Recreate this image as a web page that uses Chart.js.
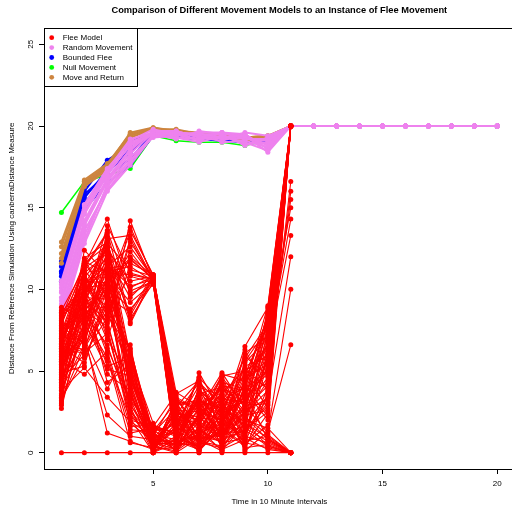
<!DOCTYPE html>
<html>
<head>
<meta charset="utf-8">
<script src="https://cdn.jsdelivr.net/npm/chart.js@4.4.1/dist/chart.umd.min.js"></script>
<style>
  html, body { margin: 0; padding: 0; background: #fff; }
  canvas { display: block; }
</style>
</head>
<body>
<canvas id="chart" width="512" height="507"></canvas>
<script>
// time steps (10 minute intervals)
const timeSteps = [1, 2, 3, 4, 5, 6, 7, 8, 9, 10, 11, 12, 13, 14, 15, 16, 17, 18, 19, 20];
const xTicks = [5, 10, 15, 20];
const yTicks = [0, 5, 10, 15, 20, 25];

// Flee Model runs (only recorded up to step 11)
const fleeModel = [
  [6.2, 9.8, 12.1, 8.4, 10.8, 0.4, 2.1, 1.3, 3.0, 5.2, 20],
  [5.1, 8.3, 10.6, 11.9, 10.6, 1.2, 0.3, 2.8, 1.9, 7.4, 20],
  [7.4, 11.2, 9.3, 13.6, 10.9, 2.6, 1.4, 0.6, 4.1, 2.2, 20],
  [4.3, 7.1, 13.6, 9.7, 10.5, 0.8, 3.3, 1.9, 0.9, 6.1, 20],
  [8.1, 10.4, 11.4, 12.6, 10.7, 3.1, 0.9, 4.2, 2.5, 8.3, 20],
  [5.8, 6.4, 8.7, 10.8, 10.4, 0.2, 2.4, 3.6, 5.1, 3.9, 20],
  [3.6, 9.1, 12.8, 11.2, 10.8, 1.7, 4.1, 0.8, 1.4, 0.4, 0],
  [6.9, 10.9, 7.6, 14.2, 10.6, 0.6, 1.1, 2.2, 6.5, 8.9, 20],
  [4.9, 5.3, 10.2, 8.8, 10.3, 2.2, 0.2, 1.5, 2.8, 4.6, 16.6],
  [7.8, 11.5, 14.3, 10.1, 10.8, 3.7, 2.8, 3.9, 3.4, 6.8, 20],
  [5.4, 8.8, 9.8, 12.3, 10.5, 1.0, 3.8, 2.6, 0.5, 1.7, 20],
  [3.1, 7.7, 11.7, 7.9, 10.7, 0.1, 1.6, 4.8, 4.4, 5.7, 15.5],
  [6.6, 10.1, 6.9, 11.6, 10.9, 2.9, 0.6, 0.3, 1.1, 3.1, 20],
  [8.4, 9.4, 13.1, 13.3, 10.6, 1.4, 4.6, 3.1, 5.8, 7.9, 20],
  [4.6, 12.4, 10.9, 9.2, 10.4, 0.3, 1.9, 1.0, 2.2, 0.8, 0],
  [7.1, 6.8, 12.4, 10.5, 10.8, 3.3, 2.5, 2.0, 3.7, 4.8, 20],
  [5.7, 10.6, 8.1, 12.9, 10.7, 0.9, 0.4, 3.4, 1.6, 6.4, 14.3],
  [2.9, 8.1, 11.1, 11.4, 10.5, 2.0, 3.0, 1.7, 4.9, 2.7, 20],
  [6.4, 11.8, 9.5, 8.6, 10.9, 1.5, 1.2, 0.2, 0.8, 5.5, 20],
  [7.6, 9.0, 13.9, 11.0, 10.6, 0.5, 4.9, 2.4, 3.2, 8.6, 20],
  [4.1, 7.4, 10.0, 13.8, 10.8, 2.4, 2.0, 4.6, 2.9, 1.2, 10.0],
  [5.3, 10.3, 12.6, 9.9, 10.5, 3.5, 0.8, 1.2, 6.1, 7.1, 20],
  [5.0, 9.3, 11.5, 10.2, 10.6, 1.1, 2.6, 2.9, 1.0, 6.0, 20],
  [7.2, 8.6, 9.0, 12.0, 10.8, 2.3, 1.7, 0.9, 3.9, 8.0, 20],
  [3.8, 11.4, 13.5, 8.2, 10.4, 0.7, 3.6, 4.0, 2.3, 2.6, 20],
  [6.0, 7.6, 10.4, 11.8, 10.7, 1.9, 0.2, 1.8, 5.5, 7.0, 20],
  [8.6, 10.2, 12.0, 9.5, 10.9, 3.0, 3.2, 2.7, 0.6, 4.0, 20],
  [4.5, 6.0, 8.3, 13.1, 10.5, 0.4, 1.5, 3.3, 3.1, 5.6, 20],
  [6.6, 11.7, 11.0, 10.9, 10.6, 2.8, 4.4, 1.4, 4.7, 8.2, 20],
  [5.6, 9.6, 12.9, 8.0, 10.8, 1.3, 0.7, 0.4, 1.7, 3.5, 20],
  [6.0, 9.6, 11.8, 4.2, 0.3, 1.8, 2.9, 1.1, 2.3, 4.4, 20],
  [4.4, 7.9, 5.6, 2.1, 0.0, 0.6, 1.3, 3.8, 4.7, 6.6, 20],
  [7.3, 10.8, 8.4, 6.3, 1.2, 2.7, 0.5, 2.1, 0.6, 0.3, 0],
  [3.3, 5.8, 9.1, 3.5, 0.6, 0.2, 3.5, 0.9, 3.6, 8.1, 20],
  [8.7, 11.3, 13.4, 3.3, 0.1, 3.2, 1.8, 4.4, 1.3, 2.9, 20],
  [5.6, 4.8, 6.2, 1.6, 1.7, 1.1, 0.1, 1.6, 5.3, 5.9, 20],
  [6.8, 9.9, 4.3, 5.4, 0.4, 0.1, 2.3, 0.4, 2.0, 1.5, 0],
  [2.7, 8.6, 10.7, 5.2, 0.9, 2.3, 4.3, 2.9, 0.2, 3.6, 20],
  [7.9, 7.2, 1.2, 0.7, 0.2, 1.6, 0.7, 3.2, 4.0, 9.0, 20],
  [4.8, 11.0, 12.2, 4.4, 1.4, 0.4, 1.5, 0.1, 1.8, 0.9, 0],
  [6.3, 6.1, 7.3, 2.8, 0.0, 2.9, 3.1, 2.7, 3.1, 6.3, 13.3],
  [5.0, 9.2, 9.9, 6.2, 0.7, 0.7, 0.2, 1.4, 0.4, 2.4, 20],
  [3.8, 5.2, 3.4, 1.9, 1.0, 3.4, 2.6, 4.9, 2.7, 4.1, 20],
  [7.0, 10.0, 11.3, 3.7, 0.2, 0.3, 1.0, 0.7, 5.6, 7.6, 20],
  [8.9, 8.0, 5.1, 4.7, 1.5, 1.3, 3.7, 2.3, 1.0, 0.6, 0],
  [4.2, 9.4, 8.0, 3.0, 0.5, 2.5, 0.3, 3.0, 3.3, 5.1, 20],
  [6.1, 11.9, 12.9, 5.9, 0.0, 0.9, 2.7, 0.5, 2.6, 3.3, 12.0],
  [5.5, 6.9, 2.3, 1.0, 0.8, 1.9, 1.2, 1.8, 4.3, 8.4, 20],
  [3.0, 10.5, 10.4, 5.7, 1.8, 0.0, 4.0, 3.5, 0.7, 1.0, 0],
  [7.7, 8.5, 6.6, 2.6, 0.3, 3.0, 0.9, 1.0, 1.7, 6.9, 20],
  [6.5, 5.5, 9.6, 2.5, 1.1, 0.8, 2.1, 4.1, 3.8, 2.0, 20],
  [4.7, 9.7, 13.2, 4.9, 0.4, 2.1, 0.0, 2.5, 0.3, 0.5, 0],
  [8.2, 11.1, 7.0, 4.5, 0.6, 0.5, 3.4, 0.3, 4.6, 5.4, 20],
  [5.2, 7.5, 11.6, 6.0, 1.3, 1.7, 1.7, 3.7, 2.1, 7.3, 15.0],
  [3.5, 8.9, 4.8, 3.8, 0.1, 2.8, 0.6, 1.3, 1.2, 3.4, 20],
  [7.2, 10.2, 8.9, 6.4, 0.9, 0.2, 2.4, 4.7, 5.0, 6.0, 20],
  [6.7, 6.3, 10.8, 5.1, 0.2, 1.0, 1.4, 0.6, 0.9, 0.2, 0],
  [4.5, 9.0, 6.4, 3.2, 1.6, 3.6, 4.4, 2.0, 3.5, 4.3, 20],
  [8.0, 10.7, 12.5, 2.4, 0.5, 0.6, 0.4, 1.7, 2.4, 8.8, 20],
  [5.9, 7.0, 3.9, 6.6, 0.0, 2.4, 2.2, 3.3, 0.1, 1.3, 6.6],
  [6.4, 9.5, 9.4, 5.5, 1.0, 1.2, 3.2, 0.8, 6.3, 3.7, 20],
  [3.9, 6.6, 11.9, 4.0, 0.4, 0.0, 0.9, 2.9, 1.5, 0.7, 0],
  [7.5, 8.7, 7.7, 1.8, 0.7, 2.0, 1.9, 4.3, 3.9, 5.0, 16.0],
  [5.3, 10.1, 10.3, 1.4, 1.3, 3.1, 2.8, 1.1, 2.8, 7.7, 20],
  [6.9, 8.2, 5.8, 0.6, 0.3, 1.4, 0.1, 2.6, 1.9, 0.4, 0],
  [4.0, 11.6, 12.7, 4.6, 0.8, 0.7, 3.9, 0.2, 4.2, 6.7, 20],
  [6.2, 8.4, 10.1, 5.3, 0.6, 1.5, 3.3, 2.2, 3.4, 7.5, 20],
  [4.9, 10.4, 7.9, 2.9, 1.1, 0.3, 1.2, 3.6, 1.4, 2.5, 20],
  [7.7, 6.7, 11.5, 4.3, 0.2, 2.6, 2.5, 0.8, 4.5, 6.4, 20],
  [3.4, 9.8, 6.0, 1.2, 1.5, 1.0, 0.3, 4.5, 2.2, 1.1, 0],
  [8.3, 11.6, 9.7, 6.1, 0.0, 3.3, 1.6, 1.5, 0.5, 8.5, 20],
  [5.7, 7.3, 13.0, 3.6, 0.9, 0.5, 3.9, 2.4, 5.9, 4.7, 20],
  [6.5, 10.9, 8.6, 5.0, 0.4, 2.2, 0.8, 0.1, 2.9, 3.0, 20],
  [4.3, 8.0, 10.6, 2.0, 1.6, 1.2, 2.9, 3.1, 1.1, 5.8, 20],
  [7.0, 9.1, 5.3, 5.8, 0.1, 0.8, 0.5, 1.9, 3.7, 0.8, 0],
  [5.4, 11.3, 12.3, 3.9, 0.7, 2.4, 2.2, 4.2, 0.9, 6.2, 20],
  [3.2, 6.5, 9.2, 4.8, 0.3, 1.6, 4.6, 1.2, 2.4, 3.8, 20],
  [8.5, 9.7, 7.4, 2.2, 1.2, 0.1, 1.1, 2.8, 4.8, 7.8, 20],
  [0, 0, 0, 0, 0, 0, 0, 0, 0, 0, 0]
];

const randomMovement = [
  [8.0, 12.8, 16.0, 17.6, 19.4, 19.3, 19.2, 19.4, 19.0, 18.5, 20, 20, 20, 20, 20, 20, 20, 20, 20, 20],
  [8.6, 13.3, 16.3, 17.9, 19.5, 19.6, 19.5, 19.3, 19.4, 18.8, 20, 20, 20, 20, 20, 20, 20, 20, 20, 20],
  [9.1, 13.9, 16.6, 18.3, 19.6, 19.4, 19.6, 19.6, 19.2, 19.1, 20, 20, 20, 20, 20, 20, 20, 20, 20, 20],
  [9.5, 14.2, 16.8, 18.6, 19.7, 19.7, 19.3, 19.1, 19.5, 18.6, 20, 20, 20, 20, 20, 20, 20, 20, 20, 20],
  [9.8, 14.6, 17.0, 18.9, 19.5, 19.2, 19.7, 19.5, 18.8, 19.3, 20, 20, 20, 20, 20, 20, 20, 20, 20, 20],
  [10.1, 14.9, 17.2, 19.1, 19.8, 19.5, 19.1, 19.6, 19.3, 18.9, 20, 20, 20, 20, 20, 20, 20, 20, 20, 20],
  [10.3, 15.1, 17.3, 19.2, 19.6, 19.6, 19.4, 19.2, 19.6, 19.4, 20, 20, 20, 20, 20, 20, 20, 20, 20, 20],
  [8.3, 13.0, 16.4, 18.1, 19.3, 19.4, 19.6, 19.0, 19.1, 18.7, 20, 20, 20, 20, 20, 20, 20, 20, 20, 20],
  [9.3, 14.0, 16.7, 18.5, 19.7, 19.3, 19.0, 19.4, 18.9, 19.0, 20, 20, 20, 20, 20, 20, 20, 20, 20, 20],
  [9.9, 14.7, 17.1, 18.8, 19.5, 19.6, 19.5, 19.5, 19.4, 18.4, 20, 20, 20, 20, 20, 20, 20, 20, 20, 20],
  [10.5, 15.2, 17.4, 19.0, 19.6, 19.7, 19.3, 19.3, 19.2, 19.2, 20, 20, 20, 20, 20, 20, 20, 20, 20, 20],
  [8.8, 13.6, 16.1, 17.8, 19.4, 19.5, 19.2, 19.6, 19.5, 18.6, 20, 20, 20, 20, 20, 20, 20, 20, 20, 20]
];

const boundedFlee = [
  [10.5, 14.9, 16.5, 17.6, 19.4, 19.3, 19.2, 19.1, 19.0, 19.0, 20, 20, 20, 20, 20, 20, 20, 20, 20, 20],
  [10.8, 15.3, 16.9, 18.0, 19.5, 19.4, 19.3, 19.2, 19.1, 19.1, 20, 20, 20, 20, 20, 20, 20, 20, 20, 20],
  [11.1, 15.6, 17.3, 18.4, 19.5, 19.5, 19.3, 19.3, 19.2, 19.0, 20, 20, 20, 20, 20, 20, 20, 20, 20, 20],
  [11.4, 16.0, 17.9, 18.8, 19.6, 19.4, 19.4, 19.2, 19.0, 19.2, 20, 20, 20, 20, 20, 20, 20, 20, 20, 20],
  [11.7, 16.3, 17.6, 19.1, 19.5, 19.3, 19.2, 19.3, 19.1, 19.1, 20, 20, 20, 20, 20, 20, 20, 20, 20, 20],
  [11.0, 15.8, 17.1, 18.6, 19.4, 19.5, 19.3, 19.1, 19.2, 19.0, 20, 20, 20, 20, 20, 20, 20, 20, 20, 20]
];

const nullMovement = [
  [14.7, 16.6, 17.0, 17.4, 19.4, 19.1, 19.0, 19.0, 18.8, 19.1, 20, 20, 20, 20, 20, 20, 20, 20, 20, 20]
];

const moveAndReturn = [
  [11.6, 16.3, 17.3, 19.3, 19.8, 19.7, 19.5, 19.4, 19.2, 19.3, 20, 20, 20, 20, 20, 20, 20, 20, 20, 20],
  [11.9, 16.4, 17.4, 19.4, 19.9, 19.7, 19.6, 19.5, 19.3, 19.4, 20, 20, 20, 20, 20, 20, 20, 20, 20, 20],
  [12.2, 16.5, 17.5, 19.5, 19.8, 19.8, 19.5, 19.3, 19.1, 19.2, 20, 20, 20, 20, 20, 20, 20, 20, 20, 20],
  [12.6, 16.6, 17.6, 19.6, 19.9, 19.6, 19.4, 19.4, 19.2, 19.3, 20, 20, 20, 20, 20, 20, 20, 20, 20, 20],
  [12.9, 16.7, 17.7, 19.5, 19.8, 19.7, 19.5, 19.5, 19.3, 19.4, 20, 20, 20, 20, 20, 20, 20, 20, 20, 20]
];

// legend order; the first one is drawn on top (Chart.js draws dataset 0 last)
const models = [
  { label: 'Flee Model', runs: fleeModel },
  { label: 'Random Movement', runs: randomMovement },
  { label: 'Bounded Flee', runs: boundedFlee },
  { label: 'Null Movement', runs: nullMovement },
  { label: 'Move and Return', runs: moveAndReturn }
];
const drawOrder = ['Flee Model', 'Random Movement', 'Move and Return', 'Bounded Flee', 'Null Movement'];

const styles = {
  'Flee Model': { color: '#ff0000', width: 1.1 },
  'Random Movement': { color: '#ee82ee', width: 2 },
  'Bounded Flee': { color: '#0000ff', width: 2 },
  'Null Movement': { color: '#00ff00', width: 1.5 },
  'Move and Return': { color: '#cd853f', width: 2 }
};

const FONT = '"Liberation Sans", Arial, Helvetica, sans-serif';

const datasets = [];
drawOrder.forEach(name => {
  const m = models.find(mm => mm.label === name);
  const st = styles[name];
  m.runs.forEach(run => {
    datasets.push({
      label: name,
      data: run.map((v, i) => ({ x: timeSteps[i], y: v })),
      borderColor: st.color,
      backgroundColor: st.color,
      pointBackgroundColor: st.color,
      pointBorderColor: st.color,
      pointBorderWidth: 0,
      pointRadius: 2.5,
      borderWidth: st.width,
      tension: 0,
      fill: false
    });
  });
});

// R style decorations: box, title, axis labels, rotated y labels, legend
const rDecor = {
  id: 'rDecor',
  afterDraw(chart) {
    const ctx = chart.ctx;
    const a = chart.chartArea;
    const xs = chart.scales.x, ys = chart.scales.y;
    const midX = xs.getPixelForValue(10.5);
    ctx.save();
    ctx.strokeStyle = '#000';
    ctx.lineWidth = 1;
    ctx.strokeRect(Math.round(a.left) + 0.5, Math.round(a.top) + 0.5, 600, Math.round(a.bottom - a.top));

    ctx.fillStyle = '#000';
    ctx.textAlign = 'center';
    ctx.textBaseline = 'middle';
    ctx.font = 'bold 9.3px ' + FONT;
    ctx.fillText('Comparison of Different Movement Models to an Instance of Flee Movement', midX, 10);

    ctx.font = '8px ' + FONT;
    ctx.fillText('Time in 10 Minute Intervals', midX, 502);
    xTicks.forEach(t => ctx.fillText(String(t), xs.getPixelForValue(t), 484));

    yTicks.forEach(t => {
      ctx.save();
      ctx.translate(30.5, ys.getPixelForValue(t));
      ctx.rotate(-Math.PI / 2);
      ctx.fillText(String(t), 0, 0);
      ctx.restore();
    });
    ctx.save();
    ctx.translate(11.5, ys.getPixelForValue(12.5));
    ctx.rotate(-Math.PI / 2);
    ctx.fillText('Distance From Reference Simulation Using canberraDistance Measure', 0, 0);
    ctx.restore();

    // legend box
    const lx = Math.round(a.left), ly = Math.round(a.top);
    ctx.fillStyle = '#fff';
    ctx.fillRect(lx + 0.5, ly + 0.5, 93, 58);
    ctx.strokeRect(lx + 0.5, ly + 0.5, 93, 58);
    ctx.textAlign = 'left';
    models.forEach((m, i) => {
      const cy = ly + 9.7 + i * 9.9;
      ctx.fillStyle = styles[m.label].color;
      ctx.beginPath();
      ctx.arc(lx + 7.7, cy, 2.4, 0, Math.PI * 2);
      ctx.fill();
      ctx.fillStyle = '#000';
      ctx.fillText(m.label, lx + 18.7, cy);
    });
    ctx.restore();
  }
};

new Chart(document.getElementById('chart'), {
  type: 'line',
  data: { datasets: datasets },
  options: {
    responsive: false,
    animation: false,
    events: [],
    layout: { padding: { top: 28, right: 0, left: 0, bottom: 0 } },
    plugins: {
      legend: { display: false },
      tooltip: { enabled: false },
      title: { display: false }
    },
    scales: {
      x: {
        type: 'linear',
        min: 0.24,
        max: 20.47,
        afterBuildTicks: s => { s.ticks = xTicks.map(v => ({ value: v })); },
        afterFit: s => { s.height = 38; },
        ticks: { display: false },
        grid: { drawOnChartArea: false, drawTicks: true, tickLength: 5, color: '#000' },
        border: { display: true, color: '#000', width: 1 }
      },
      y: {
        type: 'linear',
        min: -1,
        max: 26,
        afterBuildTicks: s => { s.ticks = yTicks.map(v => ({ value: v })); },
        afterFit: s => { s.width = 44; },
        ticks: { display: false },
        grid: { drawOnChartArea: false, drawTicks: true, tickLength: 5, color: '#000' },
        border: { display: true, color: '#000', width: 1 }
      }
    }
  },
  plugins: [rDecor]
});
</script>
</body>
</html>
